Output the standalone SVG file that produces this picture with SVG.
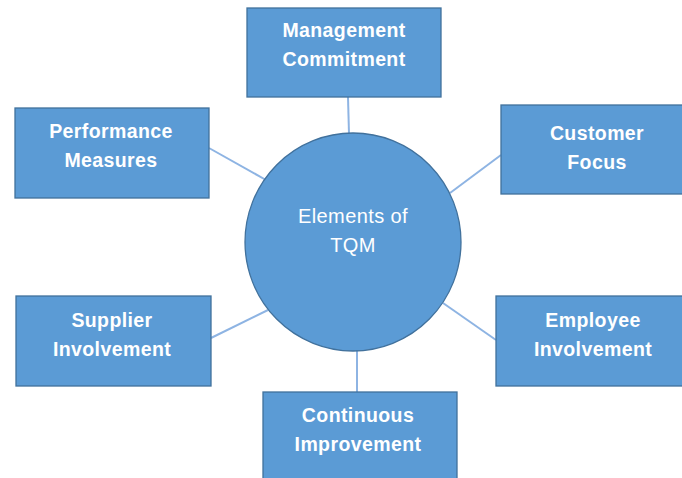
<svg xmlns="http://www.w3.org/2000/svg" width="682" height="478" viewBox="0 0 682 478">
  <style>
    .box { fill: #5B9BD5; stroke: #41719C; stroke-width: 1.3; }
    .hub { fill: #5B9BD5; stroke: #41719C; stroke-width: 1.3; }
    .link { stroke: #8EB4E3; stroke-width: 2; fill: none; }
    .lbl { font-family: "Liberation Sans", Arial, sans-serif; font-size: 19.5px; font-weight: bold; fill: #FFFFFF; text-anchor: middle; letter-spacing: 0.4px; }
    .hubtxt { font-family: "Liberation Sans", Arial, sans-serif; font-size: 20px; fill: #FFFFFF; text-anchor: middle; letter-spacing: 0.4px; }
  </style>
  <rect width="682" height="478" fill="#FFFFFF"/>

  <g id="connectors">
    <line class="link" x1="348" y1="97" x2="349" y2="134"/>
    <line class="link" x1="209" y1="148" x2="266" y2="180"/>
    <line class="link" x1="501" y1="155" x2="450" y2="193"/>
    <line class="link" x1="211" y1="338" x2="268" y2="310"/>
    <line class="link" x1="357" y1="350" x2="357" y2="392"/>
    <line class="link" x1="496" y1="340" x2="443" y2="303"/>
  </g>

  <g id="hub">
    <ellipse class="hub" cx="353" cy="242" rx="108" ry="109"/>
    <text class="hubtxt" x="353" y="223">Elements of</text>
    <text class="hubtxt" x="353" y="252">TQM</text>
  </g>

  <g id="management-commitment">
    <rect class="box" x="247" y="8" width="194" height="89"/>
    <text class="lbl" x="344" y="37">Management</text>
    <text class="lbl" x="344" y="66">Commitment</text>
  </g>

  <g id="performance-measures">
    <rect class="box" x="15" y="108" width="194" height="90"/>
    <text class="lbl" x="111" y="138">Performance</text>
    <text class="lbl" x="111" y="167">Measures</text>
  </g>

  <g id="customer-focus">
    <rect class="box" x="501" y="105" width="186" height="89"/>
    <text class="lbl" x="597" y="140">Customer</text>
    <text class="lbl" x="597" y="169">Focus</text>
  </g>

  <g id="supplier-involvement">
    <rect class="box" x="16" y="296" width="195" height="90"/>
    <text class="lbl" x="112" y="327">Supplier</text>
    <text class="lbl" x="112" y="356">Involvement</text>
  </g>

  <g id="employee-involvement">
    <rect class="box" x="496" y="296" width="191" height="90"/>
    <text class="lbl" x="593" y="327">Employee</text>
    <text class="lbl" x="593" y="356">Involvement</text>
  </g>

  <g id="continuous-improvement">
    <rect class="box" x="263" y="392" width="194" height="100"/>
    <text class="lbl" x="358" y="422">Continuous</text>
    <text class="lbl" x="358" y="451">Improvement</text>
  </g>
</svg>
